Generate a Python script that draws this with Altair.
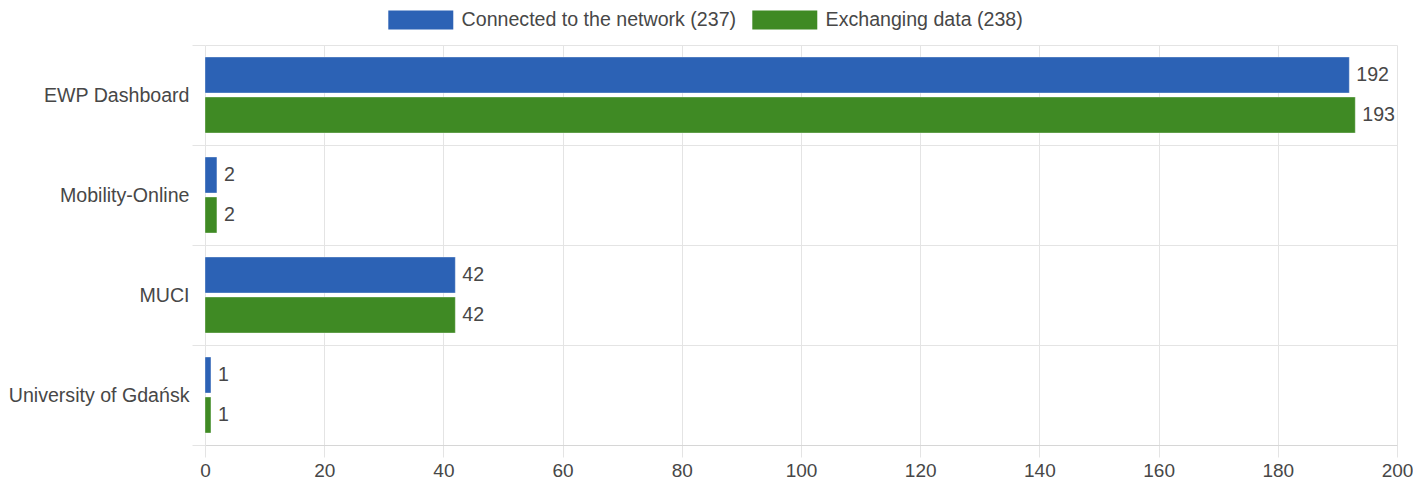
import altair as alt
import pandas as pd

systems = ["EWP Dashboard", "Mobility-Online", "MUCI", "University of Gdańsk"]
series = ["Connected to the network (237)", "Exchanging data (238)"]
connected = [192, 2, 42, 1]
exchanging = [193, 2, 42, 1]
x_ticks = [0, 20, 40, 60, 80, 100, 120, 140, 160, 180, 200]
colors = ["#2c62b5", "#3f8a24"]

rows = []
for s, c, e in zip(systems, connected, exchanging):
    rows.append({"system": s, "series": series[0], "value": c})
    rows.append({"system": s, "series": series[1], "value": e})
df = pd.DataFrame(rows)

FONT = "Liberation Sans"
FS = 19.6
GRID = "#e4e4e4"
TEXT = "#474747"

base = alt.Chart(df).encode(
    y=alt.Y(
        "system:N",
        sort=systems,
        scale=alt.Scale(paddingInner=0, paddingOuter=0),
        axis=alt.Axis(
            title=None,
            labelFont=FONT,
            labelFontSize=FS,
            labelColor=TEXT,
            labelLimit=0,
            tickBand="extent",
            tickSize=13,
            tickColor=GRID,
            labelPadding=3,
            grid=True,
            gridColor=GRID,
            domain=False,
            minExtent=196,
            maxExtent=196,
        ),
    ),
    yOffset=alt.YOffset(
        "series:N",
        sort=series,
        scale=alt.Scale(paddingInner=0.1, paddingOuter=0.3),
    ),
    x=alt.X(
        "value:Q",
        scale=alt.Scale(domain=[0, 200], nice=False),
        axis=alt.Axis(
            title=None,
            values=x_ticks,
            labelFont=FONT,
            labelFontSize=19,
            labelColor=TEXT,
            labelFlush=False,
            labelOverlap=False,
            tickSize=12,
            tickColor=GRID,
            labelPadding=4,
            grid=True,
            gridColor=GRID,
            domainColor="#d6d6d6",
        ),
    ),
)

bars = base.mark_bar(stroke="white", strokeOpacity=0.35, strokeWidth=1).encode(
    color=alt.Color(
        "series:N",
        sort=series,
        scale=alt.Scale(domain=series, range=colors),
        legend=alt.Legend(
            title=None,
            orient="none",
            direction="horizontal",
            legendX=183,
            legendY=-35,
            symbolType="M-1,-1L5.84,-1L5.84,1L-1,1Z",
            symbolSize=361,
            symbolStrokeWidth=0,
            symbolOpacity=1,
            labelFont=FONT,
            labelFontSize=FS,
            labelColor=TEXT,
            labelLimit=0,
            labelOffset=54,
            columnPadding=15,
        ),
    )
)

labels = base.mark_text(
    align="left", baseline="middle", dx=7, font=FONT, fontSize=FS, color=TEXT
).encode(text="value:Q")

chart = (
    alt.layer(bars, labels)
    .properties(
        width=1192,
        height=400,
        padding={"left": 0, "top": 2, "right": 0, "bottom": 0},
    )
    .configure_view(stroke=None)
)

chart.save("out.html", embed_options={"renderer": "svg", "actions": False})
